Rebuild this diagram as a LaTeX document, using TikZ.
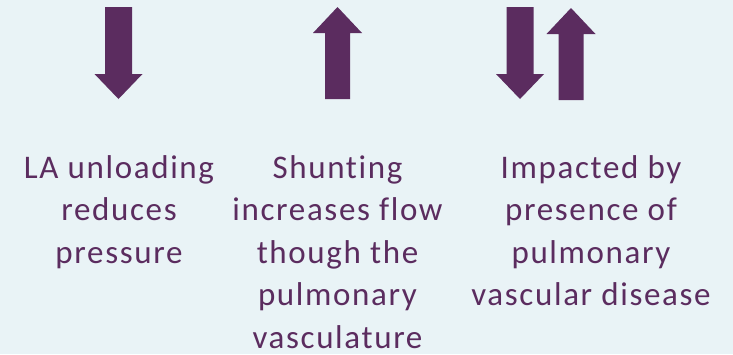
\documentclass[tikz,border=0pt]{standalone}
\usepackage{fontspec}
\setmainfont{Carlito}[LetterSpace=5, Ligatures={NoCommon}]
\usepackage{tikz}
\definecolor{bgblue}{HTML}{E9F3F6}
\definecolor{plum}{HTML}{5B2C5F}

\begin{document}
\begin{tikzpicture}[x=1pt, y=-1pt,
        label/.style={align=center, text=plum, inner sep=0pt, anchor=base,
                      font=\fontsize{33}{42.5}\selectfont},
        blockdown/.pic={\fill[plum] (-13.5,0) -- (13.5,0) -- (13.5,67) -- (24,67) -- (0,92)
                          -- (-24,67) -- (-13.5,67) -- cycle;},
        blockup/.pic={\fill[plum] (0,0) -- (24.5,26) -- (12.5,26) -- (12.5,92) -- (-12.5,92)
                        -- (-12.5,26) -- (-24.5,26) -- cycle;}
    ]
    \fill[bgblue] (0,0) rectangle (733,354);
    \useasboundingbox (0,0) rectangle (733,354);

    % Left column - unloading (base = last line)
    \pic at (118.5,7) {blockdown};
    \node[label] (unload) at (119,263) {LA unloading\\reduces\\pressure};

    % Middle column - shunting
    \pic at (337.5,7) {blockup};
    \node[label] (shunt) at (337.5,348) {Shunting\\increases flow\\though the\\pulmonary\\vasculature};

    % Right column - both ways
    \pic at (520,7) {blockdown};
    \pic at (571,8) {blockup};
    \node[label] (impact) at (591,305.5) {Impacted by\\presence of\\pulmonary\\vascular disease};
\end{tikzpicture}
\end{document}
